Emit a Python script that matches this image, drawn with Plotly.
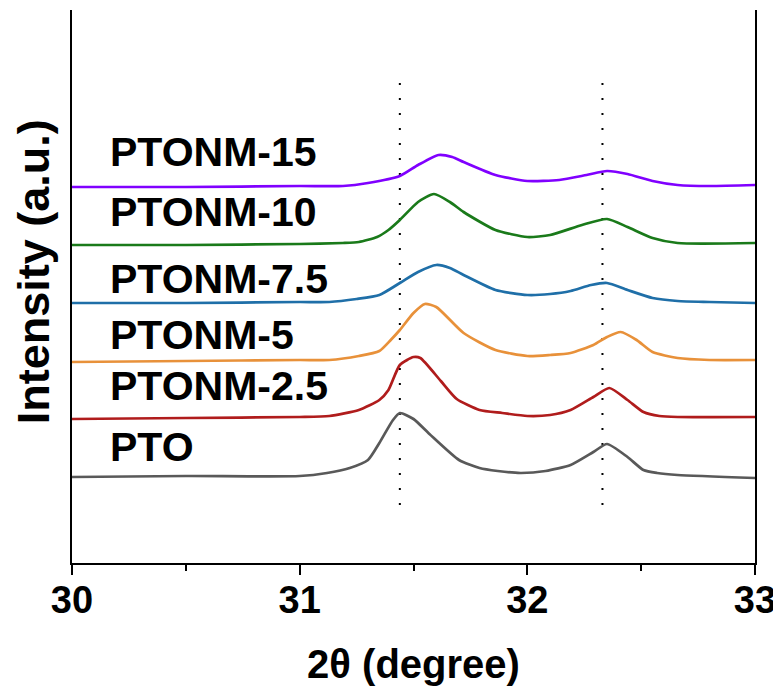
import plotly.graph_objects as go

# ---- data ----
x_pto = [30.0, 30.5, 31.0, 31.12, 31.22, 31.30, 31.35, 31.41, 31.44, 31.50, 31.57, 31.70, 31.79, 31.87, 31.97, 32.08, 32.19, 32.29, 32.35, 32.44, 32.51, 32.57, 32.66, 33.0]
y_pto = [86, 87, 87, 90, 95, 103, 120, 143, 150, 144, 129, 103, 95, 92, 90, 92, 98, 111, 119, 106, 93, 90, 88, 85]

x_25 = [30.0, 30.5, 31.0, 31.13, 31.26, 31.35, 31.39, 31.44, 31.50, 31.53, 31.62, 31.69, 31.79, 31.89, 32.0, 32.10, 32.19, 32.29, 32.36, 32.44, 32.51, 32.58, 32.66, 33.0]
y_25 = [144, 145, 146, 147, 153, 163, 173, 198, 206, 205, 182, 164, 153, 150, 147, 148, 153, 166, 175, 163, 151, 147, 146, 146]

x_5 = [30.0, 30.5, 31.0, 31.13, 31.26, 31.35, 31.40, 31.44, 31.50, 31.55, 31.60, 31.72, 31.86, 32.0, 32.10, 32.19, 32.29, 32.35, 32.41, 32.48, 32.55, 32.66, 32.8, 33.0]
y_5 = [201, 202, 203, 203, 207, 212, 223, 233, 250, 259, 256, 230, 213, 207, 208, 210, 218, 226, 231, 223, 211, 205, 203, 203]

x_75 = [30.0, 30.5, 31.0, 31.13, 31.25, 31.35, 31.44, 31.52, 31.60, 31.66, 31.72, 31.86, 32.0, 32.10, 32.19, 32.28, 32.35, 32.44, 32.55, 32.66, 32.8, 33.0]
y_75 = [260, 260, 261, 261, 264, 268, 280, 291, 298, 295, 288, 273, 268, 269, 272, 278, 280, 273, 265, 262, 261, 260]

x_10 = [30.0, 30.5, 31.0, 31.19, 31.26, 31.34, 31.39, 31.44, 31.52, 31.59, 31.66, 31.72, 31.86, 32.0, 32.10, 32.24, 32.35, 32.44, 32.55, 32.66, 33.0]
y_10 = [318, 318, 319, 320, 321, 326, 333, 343, 361, 369, 361, 351, 333, 326, 328, 338, 344, 336, 325, 320, 320]

x_15 = [30.0, 30.5, 31.0, 31.19, 31.30, 31.44, 31.52, 31.61, 31.67, 31.72, 31.86, 32.0, 32.14, 32.26, 32.35, 32.44, 32.55, 32.66, 32.8, 33.0]
y_15 = [376, 376, 377, 377, 380, 387, 398, 408, 406, 401, 388, 382, 383, 388, 392, 389, 382, 378, 377, 378]

series_names = ["PTO", "PTONM-2.5", "PTONM-5", "PTONM-7.5", "PTONM-10", "PTONM-15"]
series_x = [x_pto, x_25, x_5, x_75, x_10, x_15]
series_y = [y_pto, y_25, y_5, y_75, y_10, y_15]
series_colors = ["#595959", "#B01C1C", "#E8913A", "#1F6FA8", "#1A7A1A", "#8000FF"]
label_y = [116, 177, 228, 284, 351, 411]

ref_lines_x = [31.44, 32.33]
ref_span_y = [58, 485]

x_ticks = [30, 31, 32, 33]

FONT = "Liberation Sans, Arial"

fig = go.Figure()

for xr in ref_lines_x:
    fig.add_trace(go.Scatter(x=[xr, xr], y=ref_span_y, mode="lines",
                             line=dict(color="black", width=2, dash="2px,13px"),
                             showlegend=False, hoverinfo="skip"))

for name, xs, ys, c in zip(series_names, series_x, series_y, series_colors):
    fig.add_trace(go.Scatter(x=xs, y=ys, mode="lines", name=name,
                             line=dict(color=c, width=2.7, shape="spline", smoothing=0.6),
                             showlegend=False))

for name, ly in zip(series_names, label_y):
    fig.add_annotation(x=30.16, y=ly, xref="x", yref="y", text=name, showarrow=False,
                       xanchor="left", yanchor="middle",
                       font=dict(family=FONT, size=41, color="black", weight="bold"))

# y-axis title placed as a rotated annotation
fig.add_annotation(x=-0.057, y=0.526, xref="paper", yref="paper", text="Intensity (a.u.)",
                   showarrow=False, textangle=-90, xanchor="center", yanchor="middle",
                   font=dict(family=FONT, size=45, color="black", weight="bold"))

# the page body adds an 8px offset, so the figure is sized to fit the 781x690 window
fig.update_layout(
    width=773, height=682,
    margin=dict(l=64, r=26, t=2, b=127, autoexpand=False),
    paper_bgcolor="white", plot_bgcolor="white",
    font=dict(family=FONT, color="black"),
)
fig.update_xaxes(
    range=[30, 33], tickvals=x_ticks, ticktext=[str(t) for t in x_ticks],
    showline=True, linecolor="black", linewidth=2, mirror=False,
    ticks="outside", ticklen=10, tickwidth=2, tickcolor="black",
    minor=dict(dtick=0.5, ticks="outside", ticklen=6, tickwidth=2, tickcolor="black", showgrid=False),
    showgrid=False, zeroline=False, automargin=False, ticklabelstandoff=-8,
    tickfont=dict(family=FONT, size=38, color="black", weight="bold"),
    title=dict(text="2θ (degree)", standoff=30,
               font=dict(family=FONT, size=40, color="black", weight="bold")),
)
fig.update_yaxes(
    range=[0, 553], showline=True, linecolor="black", linewidth=2, mirror=True,
    ticks="", showticklabels=False, showgrid=False, zeroline=False, automargin=False,
)

fig.write_html("out.html")
